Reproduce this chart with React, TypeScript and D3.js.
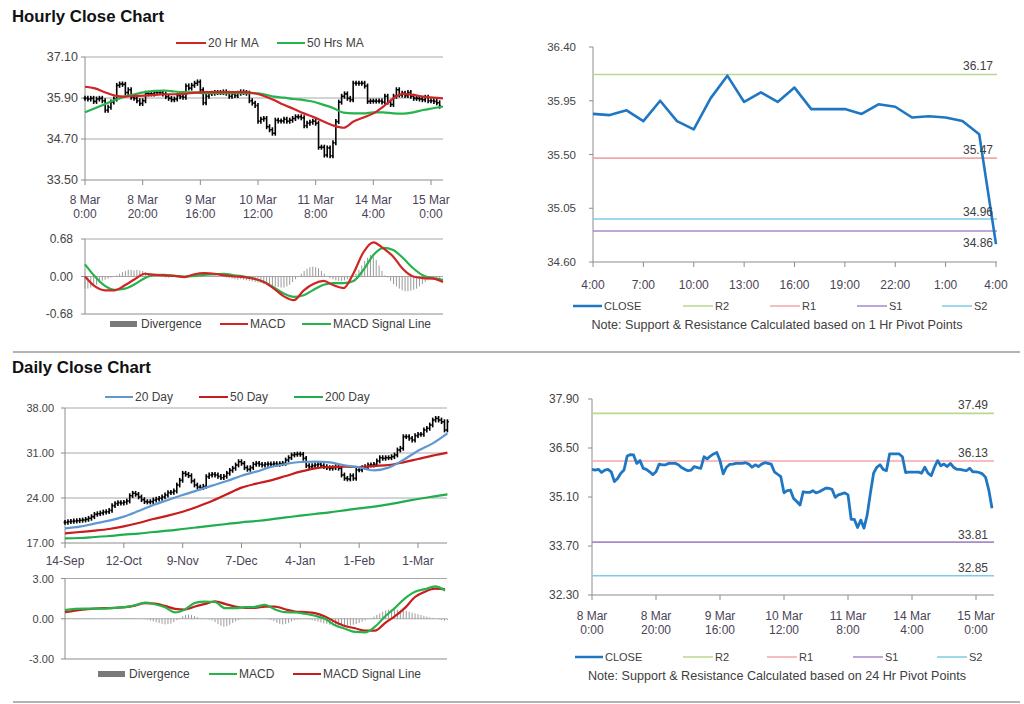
import React from 'react';
import * as d3 from 'd3';

const FONT = '"Liberation Sans", Arial, Helvetica, sans-serif';

// ---------- Hourly (1 week) ----------
const hourlyClose = [
  35.89, 35.87, 35.89, 35.80, 35.87, 35.89, 35.82, 35.54, 35.63, 35.78,
  35.87, 36.27, 36.31, 36.30, 36.06, 36.14, 35.92, 35.89, 35.82, 35.74,
  35.82, 36.04, 36.02, 36.02, 36.06, 36.06, 36.06, 36.02, 35.94, 35.89,
  35.85, 35.87, 35.97, 35.94, 35.92, 36.25, 36.19, 36.27, 36.33, 36.37,
  36.14, 35.76, 35.95, 36.03, 36.04, 36.06, 36.06, 36.06, 36.08, 36.04,
  35.95, 36.02, 35.97, 36.04, 36.08, 36.06, 36.04, 35.82, 35.75, 35.68,
  35.22, 35.28,
  35.30, 35.06, 34.97, 34.87, 35.25, 35.23, 35.23, 35.28, 35.22, 35.25,
  35.30, 35.35, 35.35, 35.32, 35.09, 35.16, 35.19, 35.22, 35.16, 34.46,
  34.46, 34.23, 34.44, 34.21, 34.59, 35.21, 35.78, 35.95, 36.02, 35.89,
  35.85, 36.33, 36.33, 36.33, 36.33, 36.25, 35.80, 35.81, 35.81, 35.81,
  35.81, 35.78, 35.95, 35.78, 35.71, 35.95, 36.14, 35.99, 36.04, 35.97,
  36.06, 35.95, 35.89, 35.89, 35.87, 35.85, 35.92, 35.82, 35.82, 35.80,
  35.76, 35.66, 35.30, 34.78,
];
const hourlyTickIdx = [0, 20, 40, 60, 80, 100, 120];
const hourlyTickLabels = [
  ['8 Mar', '0:00'], ['8 Mar', '20:00'], ['9 Mar', '16:00'], ['10 Mar', '12:00'],
  ['11 Mar', '8:00'], ['14 Mar', '4:00'], ['15 Mar', '0:00'],
];
const hourlyYTicks = [33.5, 34.7, 35.9, 37.1];
const ma20Hr = [
  36.23, 36.18, 36.07, 35.97, 35.94, 35.96, 35.97, 35.99, 36.01, 36.01, 36.02, 36.06, 36.07,
  36.07, 36.07, 36.07, 36.07, 36.04, 35.96, 35.84, 35.70, 35.58, 35.45, 35.34, 35.21, 35.09,
  35.03, 35.21, 35.33, 35.45, 35.65, 35.89, 36.02, 35.99, 35.94, 35.91, 35.89,
];
const ma50Hrs = [
  35.48, 35.60, 35.72, 35.84, 35.94, 36.01, 36.07, 36.11, 36.12, 36.09, 36.07, 36.06, 36.04,
  36.04, 36.04, 36.04, 36.04, 36.04, 36.01, 35.94, 35.91, 35.87, 35.84, 35.79, 35.70, 35.60,
  35.47, 35.45, 35.45, 35.48, 35.48, 35.45, 35.44, 35.48, 35.55, 35.60, 35.65,
];
const hourlyMacd = [
  0.00, -0.18, -0.25, -0.25, -0.16, -0.05, 0.05, 0.03, 0.02, 0.01, -0.01, 0.04, 0.06,
  0.05, 0.02, 0.00, -0.01, -0.04, -0.10, -0.22, -0.36, -0.43, -0.25, -0.13, -0.08, -0.16,
  -0.21, 0.06, 0.44, 0.62, 0.51, 0.36, 0.13, 0.00, -0.03, -0.04, -0.10,
];
const hourlySignal = [
  0.22, 0.00, -0.17, -0.24, -0.22, -0.14, -0.03, 0.03, 0.03, 0.01, 0.00, 0.01, 0.03,
  0.04, 0.05, 0.02, 0.00, -0.04, -0.10, -0.20, -0.31, -0.37, -0.34, -0.24, -0.15, -0.12,
  -0.12, -0.08, 0.12, 0.39, 0.52, 0.48, 0.33, 0.15, 0.02, -0.03, -0.06,
];
const hourlyDivergence = [
  -0.22, -0.22, -0.20, -0.18, -0.15, -0.12, -0.08, -0.06, -0.04, -0.02, -0.01,
  0.02, 0.05, 0.08, 0.10, 0.12, 0.12, 0.11, 0.12, 0.11, 0.10, 0.08, 0.06, 0.04,
  0.03, 0.02, 0.01, -0.01, -0.02, -0.02, -0.01,
  0, 0.01, 0.01, 0, -0.01, 0, 0.01, 0.01, 0.02, 0.02, 0.01, 0, 0, -0.01, -0.01, 0, 0, -0.01, -0.02,
  -0.03, -0.04, -0.05, -0.06, -0.05, -0.06, -0.07, -0.08, -0.09, -0.10, -0.11, -0.12, -0.14,
  -0.15, -0.16, -0.17, -0.18, -0.19, -0.20, -0.20, -0.18, -0.15,
  -0.10, -0.05, 0.0,
  0.05, 0.10, 0.14, 0.17, 0.18, 0.17, 0.15, 0.10, 0.05,
  0.00, -0.03, -0.05, -0.07, -0.08, -0.08, -0.07, -0.05, -0.03, 0.00,
  0.05, 0.12, 0.20, 0.28, 0.34, 0.39, 0.36, 0.30, 0.20,
  0.10, 0.02, -0.02,
  -0.08, -0.14, -0.18, -0.22, -0.25, -0.27, -0.27, -0.26, -0.24, -0.22, -0.18, -0.14,
  -0.10, -0.07, -0.05, -0.04, -0.05, -0.06,
];
const hourlyMacdTicks = [-0.68, 0, 0.68];

// ---------- Last 24 hours ----------
const last24Close = [
  35.84, 35.83, 35.87, 35.78, 35.95, 35.78, 35.71, 35.97, 36.16, 35.94, 36.02, 35.94, 36.06,
  35.88, 35.88, 35.88, 35.84, 35.92, 35.90, 35.81, 35.82, 35.81, 35.78, 35.67, 34.75,
];
const last24Labels = ['4:00', '7:00', '10:00', '13:00', '16:00', '19:00', '22:00', '1:00', '4:00'];
const last24YTicks = [34.6, 35.05, 35.5, 35.95, 36.4];
const pivotNames = ['R2', 'R1', 'S1', 'S2'];
const pivots1Hr = [36.17, 35.47, 34.86, 34.96];
const pivots24Hr = [37.49, 36.13, 33.81, 32.85];
const pivotColors = ['#b8d88e', '#f2a7a7', '#a68bc8', '#7fcbe6'];
const weekYTicks = [32.3, 33.7, 35.1, 36.5, 37.9];

// ---------- Daily ----------
const dailyClose = [
  20.21, 20.32, 20.37, 20.42, 20.47, 20.53, 20.58, 20.68, 20.84, 21.10,
  21.46, 21.56, 21.67, 21.82, 21.87, 22.08, 22.81, 23.12, 23.28, 23.22,
  23.33, 23.53, 24.36, 24.73, 24.57, 24.16, 23.74, 23.43, 23.38, 23.43,
  23.69, 23.84, 23.95, 24.16, 24.47, 24.83, 24.88, 25.09, 26.02, 26.75,
  27.84, 27.68, 27.47, 26.64, 26.02, 25.71, 25.61, 25.82, 27.32, 27.58,
  27.68, 27.58, 27.37, 27.16, 27.37, 27.84, 28.30, 28.62, 29.13, 29.65,
  29.39, 28.72, 28.46, 28.72, 29.24, 29.39, 29.24, 29.13, 29.24, 29.29,
  29.24, 29.34, 29.24, 29.34, 29.39, 29.91, 30.27, 30.69, 30.79, 30.84,
  30.79, 30.17, 29.03, 28.87, 29.03, 29.13, 29.24, 29.03, 28.87, 28.72,
  28.62, 28.72, 28.87, 28.62, 27.58, 27.06, 26.96, 27.47, 27.06, 28.36,
  28.36, 28.72, 28.87, 29.13, 29.13, 29.24, 29.76, 30.27, 30.17, 30.27,
  30.27, 30.43, 30.69, 31.47, 31.73, 33.54, 33.54, 33.28, 33.02, 33.70,
  33.90, 33.90, 34.58, 34.84, 35.36, 36.13, 36.39, 36.13, 35.87, 34.58, 35.87,
];
const dailyTickIdx = [0, 20, 40, 60, 80, 100, 120];
const dailyLabels = ['14-Sep', '12-Oct', '9-Nov', '7-Dec', '4-Jan', '1-Feb', '1-Mar'];
const dailyYTicks = [17, 24, 31, 38];
const day20 = [
  19.28, 19.54, 20.01, 20.47, 21.10, 21.98, 22.91, 23.69, 24.47, 25.19, 25.92, 26.64, 27.46, 28.10,
  28.82, 29.29, 29.60, 29.65, 29.55, 29.08, 28.77, 28.30, 28.72, 29.91, 31.36, 32.50, 34.06,
];
const day50 = [
  18.50, 18.71, 18.92, 19.18, 19.59, 20.11, 20.73, 21.25, 21.87, 22.65, 23.53, 24.57, 25.61, 26.23,
  26.75, 27.42, 28.10, 28.62, 28.82, 28.87, 28.82, 28.98, 29.13, 29.55, 30.07, 30.59, 31.05,
];
const day200 = [
  17.73, 17.78, 17.93, 18.09, 18.30, 18.45, 18.71, 18.92, 19.18, 19.44, 19.70, 19.96, 20.22, 20.42,
  20.68, 20.99, 21.25, 21.51, 21.77, 22.08, 22.39, 22.65, 23.02, 23.43, 23.84, 24.21, 24.57,
];
const maStep = 5;
const dailyMacd = [
  0.64, 0.74, 0.76, 0.76, 0.76, 0.81, 0.86, 1.01, 1.20, 1.08, 0.86, 0.47, 0.69, 1.18, 1.28, 1.25,
  0.79, 0.79, 0.86, 0.89, 1.03, 0.69, 0.49, 0.47, 0.37, 0.22, 0.00, -0.49, -0.74, -0.98, -1.01,
  -0.59, 0.17, 0.81, 1.52, 2.02, 2.21, 2.41, 2.11,
];
const dailySignal = [
  0.49, 0.61, 0.69, 0.76, 0.79, 0.81, 0.86, 0.98, 1.16, 1.13, 0.96, 0.74, 0.69, 0.91, 1.11, 1.30,
  1.11, 0.91, 0.81, 0.81, 0.91, 0.91, 0.71, 0.54, 0.49, 0.42, 0.17, -0.22, -0.54, -0.71, -0.89,
  -0.89, -0.32, 0.20, 0.81, 1.62, 2.02, 2.24, 2.21,
];
const dailyDivergence = [
  0.05, 0.03, -0.02, -0.03, -0.04, -0.03, -0.03, -0.02, -0.03, -0.02, -0.02, -0.01, -0.02, -0.03,
  -0.02, -0.01, 0.01, 0.02, 0.01, 0.03, 0.04,
  0.05, 0.06, 0.05, 0.04, 0.02, 0.0, -0.03,
  -0.08, -0.14, -0.20, -0.26, -0.32, -0.38, -0.42, -0.40, -0.36, -0.25, -0.10,
  0.05, 0.18, 0.28, 0.32, 0.28, 0.20, 0.12, 0.05,
  0.02, -0.02, -0.06, -0.12, -0.25, -0.40,
  -0.52, -0.59, -0.56, -0.45, -0.32, -0.20, -0.10, -0.04,
  0.0, 0.03, 0.04, 0.05, 0.03, 0.02, 0.0, -0.02, -0.05, -0.10,
  -0.18, -0.30, -0.38, -0.42, -0.38, -0.30, -0.20, -0.10,
  -0.06, -0.04, -0.03, -0.04, -0.06, -0.10, -0.16, -0.22,
  -0.28, -0.35, -0.40, -0.45, -0.48, -0.50, -0.52, -0.54, -0.54, -0.52, -0.50, -0.45, -0.40,
  -0.32, -0.22, -0.12, -0.04,
  0.05, 0.15, 0.28, 0.40, 0.52, 0.62, 0.68, 0.70, 0.68, 0.66, 0.64, 0.62, 0.58, 0.52, 0.46,
  0.40, 0.34, 0.28, 0.22, 0.16, 0.10, 0.05,
  0.0, -0.05, -0.10, -0.14, -0.10,
];
const dailyMacdTicks = [-3, 0, 3];

// ---------- helpers ----------
const AXIS = '#8c8c8c';
const GRID = '#a8a8a8';
const YLAB = '#444';
const XLAB = '#4b4357';

function Txt(props: any) {
  const { x, y, anchor = 'start', size = 12, fill = '#404040', weight = 'normal', children } = props;
  return (
    <text x={x} y={y} textAnchor={anchor} fontSize={size} fill={fill} fontWeight={weight} fontFamily={FONT}>
      {children}
    </text>
  );
}

function LegLine(props: any) {
  const { x1, x2, y, color, w = 2, label, size = 12 } = props;
  return (
    <g>
      <line x1={x1} x2={x2} y1={y} y2={y} stroke={color} strokeWidth={w} />
      <text x={x2 + 2} y={y} dy="0.35em" fontSize={size} fill="#404040" fontFamily={FONT}>{label}</text>
    </g>
  );
}

function LegBox(props: any) {
  const { x1, x2, y, label, size = 12 } = props;
  return (
    <g>
      <rect x={x1} y={y - 3} width={x2 - x1} height={6} fill="#7a7a7a" />
      <text x={x2 + 4} y={y} dy="0.35em" fontSize={size} fill="#404040" fontFamily={FONT}>{label}</text>
    </g>
  );
}

function OhlcBars(props: any) {
  const { data, x, y, tick = 1.4, ext = 2.5, sw = 1.6 } = props;
  return (
    <g stroke="#000" strokeWidth={sw}>
      {data.map((c: number, i: number) => {
        const o = i > 0 ? data[i - 1] : c;
        const xi = x(i);
        const top = y(Math.max(o, c)) - ext;
        const bot = y(Math.min(o, c)) + ext;
        return (
          <g key={i}>
            <line x1={xi} x2={xi} y1={top} y2={bot} />
            <line x1={xi - tick} x2={xi} y1={y(o)} y2={y(o)} />
            <line x1={xi} x2={xi + tick} y1={y(c)} y2={y(c)} />
          </g>
        );
      })}
    </g>
  );
}

export default function App() {
  // ---- Panel 1: hourly bars ----
  const h1x = d3.scaleLinear().domain([0, 120]).range([85, 431]);
  const h1y = d3.scaleLinear().domain([33.5, 37.1]).range([180, 57]);
  const h1L = 85, h1R = 443;
  const hourlyTop = hourlyClose.slice(0, 124);
  const maX = d3.scaleLinear().domain([0, ma20Hr.length - 1]).range([85, 443]);
  const maLine = d3.line<number>().x((_, i) => maX(i)).y((d) => h1y(d)).curve(d3.curveMonotoneX);

  const m1y = d3.scaleLinear().domain([-0.68, 0.68]).range([314, 239]);
  const m1X = d3.scaleLinear().domain([0, hourlyMacd.length - 1]).range([85, 443]);
  const m1Line = d3.line<number>().x((_, i) => m1X(i)).y((d) => m1y(d)).curve(d3.curveMonotoneX);

  // ---- Panel 2: last 24 hours ----
  const p2x = d3.scaleLinear().domain([0, 24]).range([593, 996]);
  const p2y = d3.scaleLinear().domain([34.6, 36.4]).range([262, 47]);
  const p2Line = d3.line<number>().x((_, i) => p2x(i)).y((d) => p2y(d));
  const p2LabelY = [70, 154, 247, 216];

  // ---- Panel 3: daily ----
  const dx = d3.scaleLinear().domain([0, 120]).range([65, 418]);
  const dy = d3.scaleLinear().domain([17, 38]).range([543, 408]);
  const dL = 65, dR = 447;
  const dMaLine = d3.line<number>().x((_, i) => dx(i * maStep)).y((d) => dy(d)).curve(d3.curveMonotoneX);
  const dmy = d3.scaleLinear().domain([-3, 3]).range([659, 578.5]);
  const dmX = d3.scaleLinear().domain([0, dailyMacd.length - 1]).range([65, 445]);
  const dmLine = d3.line<number>().x((_, i) => dmX(i)).y((d) => dmy(d)).curve(d3.curveMonotoneX);

  // ---- Panel 4: week hourly close ----
  const p4x = d3.scaleLinear().domain([0, 120]).range([592, 976]);
  const p4y = d3.scaleLinear().domain([32.3, 37.9]).range([595, 399]);
  const p4Line = d3.line<number>().x((_, i) => p4x(i)).y((d) => p4y(d));
  const p4LabelY = [409, 457, 539, 572];

  return (
    <svg width={1024} height={704} style={{ position: 'absolute', left: 0, top: 0, background: '#fff' }}>
      <rect x={0} y={0} width={1024} height={704} fill="#fff" />
      {/* Titles */}
      <Txt x={12} y={22} size={16.8} weight="bold" fill="#111">Hourly Close Chart</Txt>
      <Txt x={12} y={373} size={16.8} weight="bold" fill="#111">Daily Close Chart</Txt>
      <line x1={13} x2={1020} y1={352} y2={352} stroke="#9a9a9a" strokeWidth={1.5} />
      <line x1={13} x2={1020} y1={702} y2={702} stroke="#9a9a9a" strokeWidth={1.5} />

      {/* ===== Panel 1 price ===== */}
      <LegLine x1={176} x2={206} y={43} color="#d02525" label="20 Hr MA" />
      <LegLine x1={277} x2={305} y={43} color="#25b34b" label="50 Hrs MA" />
      {hourlyYTicks.map((t) => (
        <g key={t}>
          <line x1={h1L} x2={h1R} y1={h1y(t)} y2={h1y(t)} stroke={t === 33.5 ? AXIS : GRID} strokeWidth={1} />
          <line x1={h1L - 4} x2={h1L} y1={h1y(t)} y2={h1y(t)} stroke={AXIS} />
          <Txt x={78} y={h1y(t) + 4} anchor="end" size={12.5} fill={YLAB}>{t.toFixed(2)}</Txt>
        </g>
      ))}
      <line x1={h1L} x2={h1L} y1={57} y2={180} stroke={AXIS} />
      {hourlyTickIdx.map((t, k) => (
        <g key={t}>
          <line x1={h1x(t)} x2={h1x(t)} y1={180} y2={185} stroke={AXIS} />
          <Txt x={h1x(t)} y={204} anchor="middle" size={12} fill={XLAB}>{hourlyTickLabels[k][0]}</Txt>
          <Txt x={h1x(t)} y={218} anchor="middle" size={12} fill={XLAB}>{hourlyTickLabels[k][1]}</Txt>
        </g>
      ))}
      <OhlcBars data={hourlyTop} x={h1x} y={h1y} />
      <path d={maLine(ma50Hrs) || ''} fill="none" stroke="#25b34b" strokeWidth={2.2} />
      <path d={maLine(ma20Hr) || ''} fill="none" stroke="#d02525" strokeWidth={2.2} />

      {/* ===== Panel 1 MACD ===== */}
      {hourlyMacdTicks.map((t) => (
        <g key={t}>
          <line x1={h1L} x2={h1R} y1={m1y(t)} y2={m1y(t)} stroke={t === -0.68 ? AXIS : GRID} />
          <line x1={h1L - 4} x2={h1L} y1={m1y(t)} y2={m1y(t)} stroke={AXIS} />
          <Txt x={73} y={m1y(t) + 4} anchor="end" size={12} fill={YLAB}>{t.toFixed(2)}</Txt>
        </g>
      ))}
      <line x1={h1L} x2={h1L} y1={239} y2={314} stroke={AXIS} />
      <g stroke="#9a9a9a" strokeWidth={1}>
        {hourlyDivergence.map((d, i) => (
          <line key={i} x1={h1x(i)} x2={h1x(i)} y1={m1y(0)} y2={m1y(d)} />
        ))}
      </g>
      <path d={m1Line(hourlySignal) || ''} fill="none" stroke="#25b34b" strokeWidth={2.2} />
      <path d={m1Line(hourlyMacd) || ''} fill="none" stroke="#d02525" strokeWidth={2.2} />
      <LegBox x1={110} x2={137} y={324} label="Divergence" />
      <LegLine x1={220} x2={248} y={324} color="#d02525" label="MACD" />
      <LegLine x1={302} x2={331} y={324} color="#25b34b" label="MACD Signal Line" />

      {/* ===== Panel 2: 24 hours ===== */}
      <line x1={593} x2={593} y1={47} y2={262} stroke={AXIS} />
      <line x1={593} x2={997} y1={262} y2={262} stroke={AXIS} />
      {last24YTicks.map((t) => (
        <g key={t}>
          <line x1={589} x2={593} y1={p2y(t)} y2={p2y(t)} stroke={AXIS} />
          <Txt x={576} y={p2y(t) + 4} anchor="end" size={11.5} fill={YLAB}>{t.toFixed(2)}</Txt>
        </g>
      ))}
      {last24Labels.map((l, k) => (
        <g key={k}>
          <line x1={p2x(k * 3)} x2={p2x(k * 3)} y1={262} y2={267} stroke={AXIS} />
          <Txt x={p2x(k * 3)} y={289} anchor="middle" size={12} fill={XLAB}>{l}</Txt>
        </g>
      ))}
      {pivots1Hr.map((v, k) => (
        <line key={k} x1={593} x2={997} y1={p2y(v)} y2={p2y(v)} stroke={pivotColors[k]} strokeWidth={1.6} />
      ))}
      <path d={p2Line(last24Close) || ''} fill="none" stroke="#1f77c4" strokeWidth={2.6} strokeLinejoin="round" />
      {pivots1Hr.map((v, k) => (
        <Txt key={k} x={993} y={p2LabelY[k]} anchor="end" size={12} fill="#404040">{v.toFixed(2)}</Txt>
      ))}
      <LegLine x1={573} x2={602} y={306} color="#1f77c4" w={2.5} label="CLOSE" size={11} />
      {pivotNames.map((n, k) => {
        const xs = [683, 770, 857, 942][k];
        return <LegLine key={n} x1={xs} x2={xs + 30} y={306} color={pivotColors[k]} w={1.5} label={n} size={11} />;
      })}
      <Txt x={777} y={329} anchor="middle" size={12.6} fill="#404040">Note: Support &amp; Resistance Calculated based on 1 Hr Pivot Points</Txt>

      {/* ===== Panel 3: daily ===== */}
      <LegLine x1={105} x2={133} y={397} color="#5f97d3" label="20 Day" />
      <LegLine x1={199} x2={228} y={397} color="#c91c1c" label="50 Day" />
      <LegLine x1={294} x2={323} y={397} color="#1fae4e" label="200 Day" />
      {dailyYTicks.map((t) => (
        <g key={t}>
          <line x1={dL} x2={dR} y1={dy(t)} y2={dy(t)} stroke={t === 17 ? AXIS : GRID} />
          <line x1={dL - 4} x2={dL} y1={dy(t)} y2={dy(t)} stroke={AXIS} />
          <Txt x={54} y={dy(t) + 4} anchor="end" size={11} fill={YLAB}>{t.toFixed(2)}</Txt>
        </g>
      ))}
      <line x1={dL} x2={dL} y1={408} y2={543} stroke={AXIS} />
      {dailyTickIdx.map((t, k) => (
        <g key={t}>
          <line x1={dx(t)} x2={dx(t)} y1={543} y2={548} stroke={AXIS} />
          <Txt x={dx(t)} y={565} anchor="middle" size={12} fill={XLAB}>{dailyLabels[k]}</Txt>
        </g>
      ))}
      <OhlcBars data={dailyClose} x={dx} y={dy} tick={1.4} ext={2.4} />
      <path d={dMaLine(day200) || ''} fill="none" stroke="#1fae4e" strokeWidth={2.2} />
      <path d={dMaLine(day50) || ''} fill="none" stroke="#c91c1c" strokeWidth={2.2} />
      <path d={dMaLine(day20) || ''} fill="none" stroke="#5f97d3" strokeWidth={2.2} />

      {/* ===== Panel 3 MACD ===== */}
      {dailyMacdTicks.map((t) => (
        <g key={t}>
          <line x1={dL} x2={dR} y1={dmy(t)} y2={dmy(t)} stroke={t === -3 ? AXIS : GRID} />
          <line x1={dL - 4} x2={dL} y1={dmy(t)} y2={dmy(t)} stroke={AXIS} />
          <Txt x={54} y={dmy(t) + 4} anchor="end" size={11} fill={YLAB}>{t.toFixed(2)}</Txt>
        </g>
      ))}
      <line x1={dL} x2={dL} y1={578.5} y2={659} stroke={AXIS} />
      <g stroke="#9a9a9a" strokeWidth={1}>
        {dailyDivergence.map((d, i) => (
          <line key={i} x1={dx(i)} x2={dx(i)} y1={dmy(0)} y2={dmy(d)} />
        ))}
      </g>
      <path d={dmLine(dailySignal) || ''} fill="none" stroke="#c91c1c" strokeWidth={2.2} />
      <path d={dmLine(dailyMacd) || ''} fill="none" stroke="#25b34b" strokeWidth={2.2} />
      <LegBox x1={98} x2={125} y={674} label="Divergence" />
      <LegLine x1={209} x2={237} y={674} color="#25b34b" label="MACD" />
      <LegLine x1={293} x2={321} y={674} color="#c91c1c" label="MACD Signal Line" />

      {/* ===== Panel 4: week close ===== */}
      <line x1={592} x2={592} y1={399} y2={595} stroke={AXIS} />
      <line x1={592} x2={994} y1={595} y2={595} stroke={AXIS} />
      {weekYTicks.map((t) => (
        <g key={t}>
          <line x1={588} x2={592} y1={p4y(t)} y2={p4y(t)} stroke={AXIS} />
          <Txt x={579} y={p4y(t) + 4} anchor="end" size={12} fill={YLAB}>{t.toFixed(2)}</Txt>
        </g>
      ))}
      {hourlyTickIdx.map((t, k) => (
        <g key={t}>
          <line x1={p4x(t)} x2={p4x(t)} y1={595} y2={600} stroke={AXIS} />
          <Txt x={p4x(t)} y={620} anchor="middle" size={12} fill={XLAB}>{hourlyTickLabels[k][0]}</Txt>
          <Txt x={p4x(t)} y={634} anchor="middle" size={12} fill={XLAB}>{hourlyTickLabels[k][1]}</Txt>
        </g>
      ))}
      {pivots24Hr.map((v, k) => (
        <line key={k} x1={592} x2={994} y1={p4y(v)} y2={p4y(v)} stroke={pivotColors[k]} strokeWidth={1.6} />
      ))}
      <path d={p4Line(hourlyClose) || ''} fill="none" stroke="#1f77c4" strokeWidth={2.8} strokeLinejoin="round" />
      {pivots24Hr.map((v, k) => (
        <Txt key={k} x={988} y={p4LabelY[k]} anchor="end" size={12} fill="#404040">{v.toFixed(2)}</Txt>
      ))}
      <LegLine x1={575} x2={603} y={657} color="#1f77c4" w={2.5} label="CLOSE" size={11} />
      {pivotNames.map((n, k) => {
        const xs = [683, 767, 853, 937][k];
        return <LegLine key={n} x1={xs} x2={xs + 30} y={657} color={pivotColors[k]} w={1.5} label={n} size={11} />;
      })}
      <Txt x={777} y={680} anchor="middle" size={12.6} fill="#404040">Note: Support &amp; Resistance Calculated based on 24 Hr Pivot Points</Txt>
    </svg>
  );
}
